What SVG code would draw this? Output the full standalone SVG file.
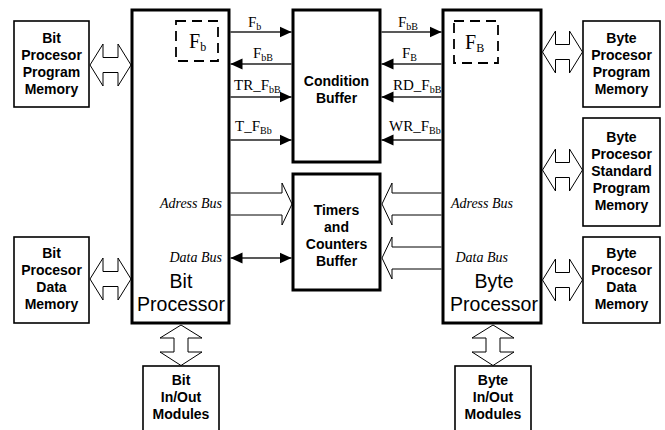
<svg xmlns="http://www.w3.org/2000/svg" width="665" height="430" viewBox="0 0 665 430">
<style>
.proc{fill:#fff;stroke:#000;stroke-width:3}
.buf{fill:#fff;stroke:#000;stroke-width:3}
.mem{fill:#fff;stroke:#000;stroke-width:1.6}
.dash{fill:none;stroke:#000;stroke-width:1.8;stroke-dasharray:10 6}
.bold{font-family:"Liberation Sans",Arial,sans-serif;font-weight:bold;font-size:14px;text-anchor:middle;fill:#000}
.big{font-family:"Liberation Sans",Arial,sans-serif;font-size:19.5px;text-anchor:middle;fill:#000}
.sig{font-family:"Liberation Serif","Times New Roman",serif;font-size:15px;fill:#000}
.bus{font-family:"Liberation Serif","Times New Roman",serif;font-style:italic;font-size:14px;text-anchor:end;fill:#000}
.flag{font-family:"Liberation Serif","Times New Roman",serif;font-size:20px;fill:#000}
.ln{stroke:#222;stroke-width:1.3;fill:none}
.hol{fill:#fff;stroke:#000;stroke-width:1}
</style>
<defs>
<marker id="ah" viewBox="0 0 12 12" refX="12" refY="6" markerWidth="12" markerHeight="12" markerUnits="userSpaceOnUse" orient="auto-start-reverse">
<path d="M0,0.5 L12,6 L0,11.5 z" fill="#000"/>
</marker>
</defs>

<g id="connectors">
<line class="ln" x1="230.5" y1="32" x2="291.5" y2="32" marker-end="url(#ah)"/>
<line class="ln" x1="291.5" y1="64" x2="230.5" y2="64" marker-end="url(#ah)"/>
<line class="ln" x1="230.5" y1="97" x2="291.5" y2="97" marker-end="url(#ah)"/>
<line class="ln" x1="230.5" y1="140" x2="291.5" y2="140" marker-end="url(#ah)"/>
<line class="ln" x1="381.5" y1="32" x2="441.5" y2="32" marker-end="url(#ah)"/>
<line class="ln" x1="441.5" y1="64" x2="381.5" y2="64" marker-end="url(#ah)"/>
<line class="ln" x1="441.5" y1="97" x2="381.5" y2="97" marker-end="url(#ah)"/>
<line class="ln" x1="441.5" y1="140" x2="381.5" y2="140" marker-end="url(#ah)"/>
<line class="ln" x1="230.5" y1="258" x2="291.5" y2="258" marker-start="url(#ah)" marker-end="url(#ah)"/>
<path class="hol" d="M230.5,193 L282,193 L282,183 L292,204 L282,225 L282,215 L230.5,215"/>
<path class="hol" d="M441.5,193 L392,193 L392,183 L382,204 L392,225 L392,215 L441.5,215"/>
<path class="hol" d="M441.5,247 L392,247 L392,237 L382,258 L392,279 L392,269 L441.5,269"/>
<path class="hol" d="M90,65 L103,44 L103,57.5 L118,57.5 L118,44 L131,65 L118,86 L118,72.5 L103,72.5 L103,86 Z"/>
<path class="hol" d="M90,279 L103,258 L103,271.5 L118,271.5 L118,258 L131,279 L118,300 L118,286.5 L103,286.5 L103,300 Z"/>
<path class="hol" d="M542.5,52 L555.5,31 L555.5,44.5 L569.5,44.5 L569.5,31 L582.5,52 L569.5,73 L569.5,59.5 L555.5,59.5 L555.5,73 Z"/>
<path class="hol" d="M542.5,170 L555.5,149 L555.5,162.5 L569.5,162.5 L569.5,149 L582.5,170 L569.5,191 L569.5,177.5 L555.5,177.5 L555.5,191 Z"/>
<path class="hol" d="M542.5,280 L555.5,259 L555.5,272.5 L569.5,272.5 L569.5,259 L582.5,280 L569.5,301 L569.5,287.5 L555.5,287.5 L555.5,301 Z"/>
<path class="hol" d="M181,325 L202,338 L188,338 L188,352 L202,352 L181,365.5 L160,352 L174,352 L174,338 L160,338 Z"/>
<path class="hol" d="M493,325 L514,338 L500,338 L500,352 L514,352 L493,365.5 L472,352 L486,352 L486,338 L472,338 Z"/>
</g>

<g id="bit-processor">
<rect class="proc" x="132" y="10" width="97" height="313"/>
<rect class="dash" x="176" y="21" width="42" height="40"/>
<text class="flag" x="189" y="48">F<tspan font-size="12" dy="3">b</tspan></text>
<text class="bus" x="222" y="208">Adress Bus</text>
<text class="bus" x="222" y="262">Data Bus</text>
<text class="big" x="181" y="288">Bit</text>
<text class="big" x="181" y="311">Processor</text>
</g>

<g id="byte-processor">
<rect class="proc" x="443" y="10" width="98" height="313"/>
<rect class="dash" x="454" y="21" width="44" height="42"/>
<text class="flag" x="465" y="49">F<tspan font-size="12" dy="3">B</tspan></text>
<text class="bus" x="513" y="208">Adress Bus</text>
<text class="bus" x="508" y="262">Data Bus</text>
<text class="big" x="494" y="288">Byte</text>
<text class="big" x="494" y="311">Processor</text>
</g>

<g id="condition-buffer">
<rect class="buf" x="293" y="10" width="87" height="152"/>
<text class="bold" x="336.5" y="86">Condition</text>
<text class="bold" x="336.5" y="103">Buffer</text>
</g>

<g id="timers-buffer">
<rect class="buf" x="293" y="174" width="87" height="116"/>
<text class="bold" x="336.5" y="215">Timers</text>
<text class="bold" x="336.5" y="232">and</text>
<text class="bold" x="336.5" y="249">Counters</text>
<text class="bold" x="336.5" y="266">Buffer</text>
</g>

<g id="signal-labels">
<text class="sig" x="248" y="27">F<tspan font-size="10" dy="3">b</tspan></text>
<text class="sig" x="253" y="58">F<tspan font-size="10" dy="3">bB</tspan></text>
<text class="sig" x="234" y="90">TR_F<tspan font-size="10" dy="3">bB</tspan></text>
<text class="sig" x="235" y="131">T_F<tspan font-size="10" dy="3">Bb</tspan></text>
<text class="sig" x="398" y="27">F<tspan font-size="10" dy="3">bB</tspan></text>
<text class="sig" x="402" y="58">F<tspan font-size="10" dy="3">B</tspan></text>
<text class="sig" x="393" y="90">RD_F<tspan font-size="10" dy="3">bB</tspan></text>
<text class="sig" x="389" y="131">WR_F<tspan font-size="10" dy="3">Bb</tspan></text>
</g>

<g id="bit-program-memory">
<rect class="mem" x="14" y="21" width="75" height="86"/>
<text class="bold" x="51.5" y="43">Bit</text>
<text class="bold" x="51.5" y="60">Procesor</text>
<text class="bold" x="51.5" y="77">Program</text>
<text class="bold" x="51.5" y="94">Memory</text>
</g>

<g id="bit-data-memory">
<rect class="mem" x="14" y="237" width="75" height="86"/>
<text class="bold" x="51.5" y="258">Bit</text>
<text class="bold" x="51.5" y="275">Procesor</text>
<text class="bold" x="51.5" y="292">Data</text>
<text class="bold" x="51.5" y="309">Memory</text>
</g>

<g id="byte-program-memory">
<rect class="mem" x="583" y="21" width="77" height="86"/>
<text class="bold" x="621.5" y="43">Byte</text>
<text class="bold" x="621.5" y="60">Procesor</text>
<text class="bold" x="621.5" y="77">Program</text>
<text class="bold" x="621.5" y="94">Memory</text>
</g>

<g id="byte-standard-program-memory">
<rect class="mem" x="583" y="118" width="77" height="108"/>
<text class="bold" x="621.5" y="142">Byte</text>
<text class="bold" x="621.5" y="159">Procesor</text>
<text class="bold" x="621.5" y="176">Standard</text>
<text class="bold" x="621.5" y="193">Program</text>
<text class="bold" x="621.5" y="210">Memory</text>
</g>

<g id="byte-data-memory">
<rect class="mem" x="583" y="237" width="77" height="86"/>
<text class="bold" x="621.5" y="258">Byte</text>
<text class="bold" x="621.5" y="275">Procesor</text>
<text class="bold" x="621.5" y="292">Data</text>
<text class="bold" x="621.5" y="309">Memory</text>
</g>

<g id="bit-io-modules">
<rect class="mem" x="143" y="366" width="76" height="80"/>
<text class="bold" x="181" y="385">Bit</text>
<text class="bold" x="181" y="402">In/Out</text>
<text class="bold" x="181" y="419">Modules</text>
</g>

<g id="byte-io-modules">
<rect class="mem" x="455" y="366" width="76" height="80"/>
<text class="bold" x="493" y="385">Byte</text>
<text class="bold" x="493" y="402">In/Out</text>
<text class="bold" x="493" y="419">Modules</text>
</g>
</svg>
